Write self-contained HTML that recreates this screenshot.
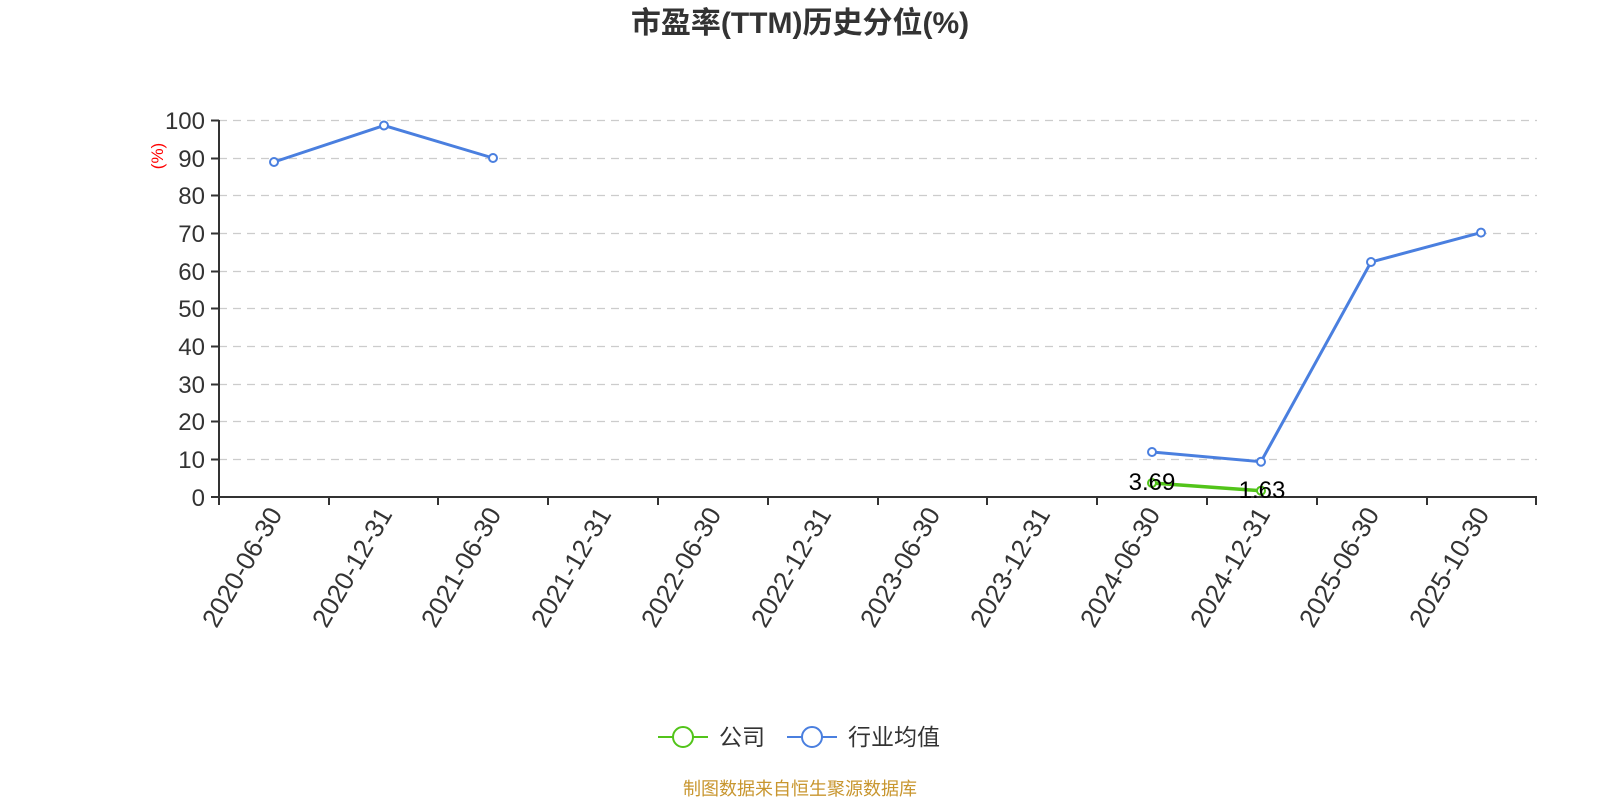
<!DOCTYPE html>
<html><head><meta charset="utf-8"><style>
html,body{margin:0;padding:0;background:#fff}
svg{display:block}
text{font-family:"Liberation Sans","Noto Sans CJK SC",sans-serif}
</style></head><body>
<svg width="1600" height="800" viewBox="0 0 1600 800" xmlns="http://www.w3.org/2000/svg">
<text x="800" y="33" text-anchor="middle" font-size="30" font-weight="bold" fill="#333">市盈率(TTM)历史分位(%)</text>
<g stroke="#ccc" stroke-width="1.3" stroke-dasharray="8,6">
<line x1="219" y1="120.5" x2="1537" y2="120.5"/>
<line x1="219" y1="158.5" x2="1537" y2="158.5"/>
<line x1="219" y1="195.5" x2="1537" y2="195.5"/>
<line x1="219" y1="233.5" x2="1537" y2="233.5"/>
<line x1="219" y1="271.5" x2="1537" y2="271.5"/>
<line x1="219" y1="308.5" x2="1537" y2="308.5"/>
<line x1="219" y1="346.5" x2="1537" y2="346.5"/>
<line x1="219" y1="384.5" x2="1537" y2="384.5"/>
<line x1="219" y1="421.5" x2="1537" y2="421.5"/>
<line x1="219" y1="459.5" x2="1537" y2="459.5"/>
</g>
<g stroke="#333" stroke-width="2">
<line x1="219" y1="120" x2="219" y2="497"/>
<line x1="219" y1="497" x2="1537" y2="497"/>
<line x1="211" y1="120.5" x2="219" y2="120.5"/><line x1="211" y1="158.5" x2="219" y2="158.5"/><line x1="211" y1="195.5" x2="219" y2="195.5"/><line x1="211" y1="233.5" x2="219" y2="233.5"/><line x1="211" y1="271.5" x2="219" y2="271.5"/><line x1="211" y1="308.5" x2="219" y2="308.5"/><line x1="211" y1="346.5" x2="219" y2="346.5"/><line x1="211" y1="384.5" x2="219" y2="384.5"/><line x1="211" y1="421.5" x2="219" y2="421.5"/><line x1="211" y1="459.5" x2="219" y2="459.5"/><line x1="211" y1="497" x2="219" y2="497"/>
<line x1="219" y1="497" x2="219" y2="505"/><line x1="329" y1="497" x2="329" y2="505"/><line x1="438" y1="497" x2="438" y2="505"/><line x1="548" y1="497" x2="548" y2="505"/><line x1="658" y1="497" x2="658" y2="505"/><line x1="768" y1="497" x2="768" y2="505"/><line x1="878" y1="497" x2="878" y2="505"/><line x1="987" y1="497" x2="987" y2="505"/><line x1="1097" y1="497" x2="1097" y2="505"/><line x1="1207" y1="497" x2="1207" y2="505"/><line x1="1317" y1="497" x2="1317" y2="505"/><line x1="1427" y1="497" x2="1427" y2="505"/><line x1="1536" y1="497" x2="1536" y2="505"/>
</g>
<g font-size="24" fill="#333" text-anchor="end">
<text x="205" y="129">100</text><text x="205" y="167">90</text><text x="205" y="204">80</text><text x="205" y="242">70</text><text x="205" y="280">60</text><text x="205" y="317">50</text><text x="205" y="355">40</text><text x="205" y="393">30</text><text x="205" y="430">20</text><text x="205" y="468">10</text><text x="205" y="506">0</text>
</g>
<text transform="translate(163,156) rotate(-90)" text-anchor="middle" font-size="17" fill="#f00">(%)</text>
<g font-size="26" fill="#333" text-anchor="end">
<text transform="translate(283,514) rotate(-60)">2020-06-30</text>
<text transform="translate(393,514) rotate(-60)">2020-12-31</text>
<text transform="translate(502,514) rotate(-60)">2021-06-30</text>
<text transform="translate(612,514) rotate(-60)">2021-12-31</text>
<text transform="translate(722,514) rotate(-60)">2022-06-30</text>
<text transform="translate(832,514) rotate(-60)">2022-12-31</text>
<text transform="translate(941,514) rotate(-60)">2023-06-30</text>
<text transform="translate(1051,514) rotate(-60)">2023-12-31</text>
<text transform="translate(1161,514) rotate(-60)">2024-06-30</text>
<text transform="translate(1271,514) rotate(-60)">2024-12-31</text>
<text transform="translate(1380,514) rotate(-60)">2025-06-30</text>
<text transform="translate(1490,514) rotate(-60)">2025-10-30</text>
</g>
<g fill="none" stroke="#4a7fdf" stroke-width="3">
<polyline points="274,162 384,125.5 493,158"/>
<polyline points="1152,452 1261,461.7 1371,262 1481,232.6"/>
</g>
<polyline points="1152,483 1261,490.7" fill="none" stroke="#52c41a" stroke-width="3.5"/>
<g fill="#fff" stroke="#4a7fdf" stroke-width="2">
<circle cx="274" cy="162" r="4"/><circle cx="384" cy="125.5" r="4"/><circle cx="493" cy="158" r="4"/><circle cx="1152" cy="452" r="4"/><circle cx="1261" cy="461.7" r="4"/><circle cx="1371" cy="262" r="4"/><circle cx="1481" cy="232.6" r="4"/>
</g>
<g fill="#fff" stroke="#52c41a" stroke-width="2"><circle cx="1152" cy="483" r="4"/><circle cx="1261" cy="490.7" r="4"/></g>
<g font-size="24" fill="#000" text-anchor="middle">
<text x="1152" y="490">3.69</text><text x="1262" y="498">1.63</text>
</g>
<line x1="658" y1="737" x2="708" y2="737" stroke="#52c41a" stroke-width="2"/>
<circle cx="683" cy="737" r="10" fill="#fff" stroke="#52c41a" stroke-width="2"/>
<text x="719" y="745" font-size="23" fill="#333">公司</text>
<line x1="787" y1="737" x2="837" y2="737" stroke="#4a7fdf" stroke-width="2"/>
<circle cx="812" cy="737" r="10" fill="#fff" stroke="#4a7fdf" stroke-width="2"/>
<text x="848" y="745" font-size="23" fill="#333">行业均值</text>
<text x="800" y="795" text-anchor="middle" font-size="18" fill="#c8962f">制图数据来自恒生聚源数据库</text>
</svg>
</body></html>
